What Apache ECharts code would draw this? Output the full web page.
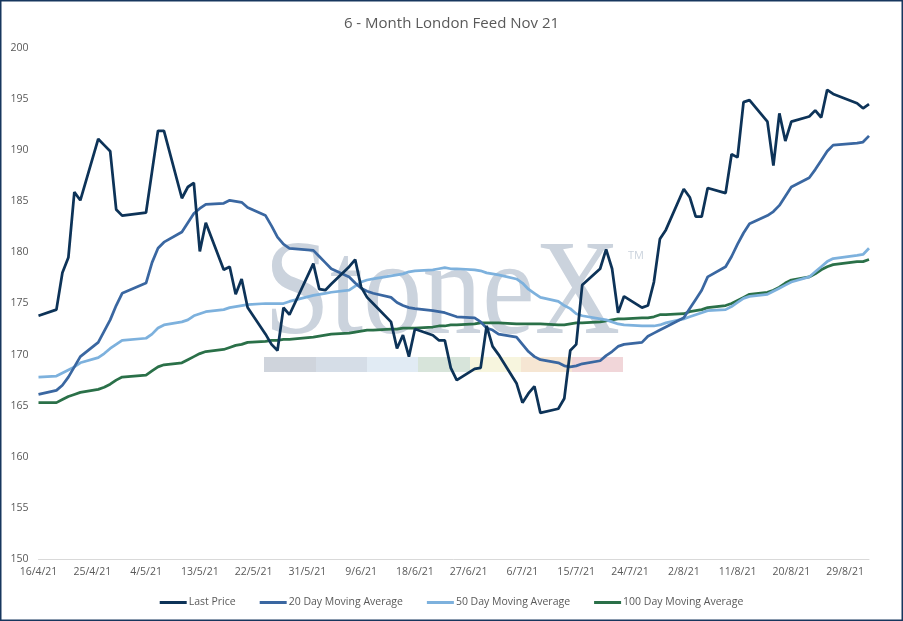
<!DOCTYPE html>
<html style="height: 100%">
<head>
    <meta charset="utf-8">
    <title>6 - Month London Feed Nov 21</title>
    <script src="https://cdn.jsdelivr.net/npm/echarts@6/dist/echarts.min.js"></script>
    <style>
        html, body { margin: 0; padding: 0; background: #fff; }
        #container { width: 903px; height: 621px; }
    </style>
</head>
<body>
<div id="container"></div>
<script>
    // trading days (UK bank holidays 3/5, 31/5, 30/8 are missing)
    var dates = [
        '2021-04-16','2021-04-19','2021-04-20','2021-04-21','2021-04-22','2021-04-23',
        '2021-04-26','2021-04-27','2021-04-28','2021-04-29','2021-04-30',
        '2021-05-04','2021-05-05','2021-05-06','2021-05-07',
        '2021-05-10','2021-05-11','2021-05-12','2021-05-13','2021-05-14',
        '2021-05-17','2021-05-18','2021-05-19','2021-05-20','2021-05-21',
        '2021-05-24','2021-05-25','2021-05-26','2021-05-27','2021-05-28',
        '2021-06-01','2021-06-02','2021-06-03','2021-06-04',
        '2021-06-07','2021-06-08','2021-06-09','2021-06-10','2021-06-11',
        '2021-06-14','2021-06-15','2021-06-16','2021-06-17','2021-06-18',
        '2021-06-21','2021-06-22','2021-06-23','2021-06-24','2021-06-25',
        '2021-06-28','2021-06-29','2021-06-30','2021-07-01','2021-07-02',
        '2021-07-05','2021-07-06','2021-07-07','2021-07-08','2021-07-09',
        '2021-07-12','2021-07-13','2021-07-14','2021-07-15','2021-07-16',
        '2021-07-19','2021-07-20','2021-07-21','2021-07-22','2021-07-23',
        '2021-07-26','2021-07-27','2021-07-28','2021-07-29','2021-07-30',
        '2021-08-02','2021-08-03','2021-08-04','2021-08-05','2021-08-06',
        '2021-08-09','2021-08-10','2021-08-11','2021-08-12','2021-08-13',
        '2021-08-16','2021-08-17','2021-08-18','2021-08-19','2021-08-20',
        '2021-08-23','2021-08-24','2021-08-25','2021-08-26','2021-08-27',
        '2021-08-31','2021-09-01','2021-09-02'
    ];

    var lastPrice = [
        173.8,174.4,178.0,179.5,185.9,185.1,
        191.1,190.5,189.9,184.2,183.6,
        183.9,187.9,191.9,191.9,
        185.3,186.4,186.8,180.1,182.9,
        178.3,178.6,175.9,177.4,174.6,
        172.0,171.0,170.4,174.6,173.9,
        178.9,176.4,176.3,176.9,
        178.6,179.3,176.6,175.6,175.0,
        173.2,170.6,171.9,169.8,172.5,
        171.9,171.4,171.4,168.7,167.5,
        168.6,168.7,172.8,170.8,170.0,
        167.2,165.3,166.2,166.9,164.3,
        164.7,165.7,170.4,171.0,176.8,
        178.4,180.3,178.4,174.1,175.7,
        174.6,174.8,177.1,181.3,182.2,
        186.2,185.4,183.5,183.5,186.3,
        185.8,189.6,189.3,194.7,194.9,
        192.8,188.5,193.6,190.9,192.8,
        193.3,193.9,193.2,195.9,195.5,
        194.6,194.1,194.5
    ];

    var ma20 = [
        166.1,166.5,167.0,167.8,168.8,169.8,
        171.2,172.3,173.4,174.8,176.0,
        177.0,179.0,180.4,181.0,
        182.0,182.9,183.8,184.3,184.7,
        184.8,185.1,185.0,184.9,184.4,
        183.6,182.6,181.5,180.8,180.4,
        180.2,179.6,179.0,178.4,
        177.6,177.0,176.5,176.2,176.0,
        175.6,175.1,174.8,174.6,174.5,
        174.3,174.2,174.1,173.9,173.7,
        173.6,173.2,172.6,172.4,172.0,
        171.7,171.0,170.3,169.8,169.5,
        169.2,168.9,168.8,168.9,169.1,
        169.4,169.9,170.3,170.8,171.0,
        171.2,171.8,172.1,172.4,172.7,
        173.6,174.5,175.4,176.3,177.6,
        178.6,179.6,180.8,181.9,182.8,
        183.6,184.0,184.6,185.5,186.4,
        187.3,188.1,189.0,189.9,190.5,
        190.7,190.8,191.4
    ];

    var ma50 = [
        167.8,167.9,168.2,168.5,168.8,169.2,
        169.7,170.1,170.6,171.0,171.4,
        171.6,172.0,172.6,172.9,
        173.2,173.4,173.8,174.0,174.2,
        174.4,174.6,174.7,174.8,174.9,
        175.0,175.0,175.0,175.0,175.2,
        175.8,175.9,176.0,176.1,
        176.3,176.7,177.1,177.3,177.4,
        177.7,177.8,177.9,178.1,178.2,
        178.3,178.4,178.5,178.4,178.4,
        178.3,178.2,178.0,177.9,177.8,
        177.4,177.0,176.4,176.0,175.6,
        175.2,174.8,174.5,174.0,173.8,
        173.5,173.4,173.2,173.0,172.9,
        172.8,172.8,172.8,172.9,173.1,
        173.5,173.7,173.9,174.1,174.3,
        174.4,174.7,175.1,175.5,175.7,
        175.9,176.2,176.5,176.8,177.1,
        177.6,178.1,178.6,179.1,179.4,
        179.7,179.8,180.4
    ];

    var ma100 = [
        165.3,165.3,165.6,165.9,166.1,166.3,
        166.6,166.8,167.1,167.5,167.8,
        168.0,168.4,168.8,169.0,
        169.2,169.5,169.8,170.1,170.3,
        170.5,170.7,170.9,171.0,171.2,
        171.3,171.4,171.4,171.5,171.5,
        171.7,171.8,171.9,172.0,
        172.1,172.2,172.3,172.4,172.4,
        172.5,172.5,172.6,172.6,172.6,
        172.7,172.8,172.8,172.9,172.9,
        173.0,173.1,173.1,173.1,173.1,
        173.0,173.0,173.0,173.0,173.0,
        172.9,172.9,173.0,173.1,173.1,
        173.2,173.3,173.4,173.5,173.5,
        173.6,173.6,173.7,173.9,173.9,
        174.0,174.2,174.3,174.4,174.6,
        174.8,175.0,175.3,175.6,175.9,
        176.1,176.3,176.6,177.0,177.3,
        177.6,177.9,178.3,178.6,178.8,
        179.1,179.1,179.3
    ];

    var seriesNames = ['Last Price', '20 Day Moving Average', '50 Day Moving Average', '100 Day Moving Average'];
    var seriesColors = ['#0d3358', '#3a67a1', '#7db1dd', '#2a7048'];
    var yTicks = [150, 155, 160, 165, 170, 175, 180, 185, 190, 195, 200];

    // x axis counts days from the first date, a label every 9 days
    var DAY = 86400000;
    function toUTC(s) {
        var p = s.split('-');
        return Date.UTC(+p[0], +p[1] - 1, +p[2]);
    }
    var t0 = toUTC(dates[0]);
    var dayNo = dates.map(function (d) { return Math.round((toUTC(d) - t0) / DAY); });
    function pairs(vals) {
        return vals.map(function (v, i) { return [dayNo[i], v]; });
    }
    function dayLabel(n) {
        var d = new Date(t0 + n * DAY);
        return d.getUTCDate() + '/' + (d.getUTCMonth() + 1) + '/' + String(d.getUTCFullYear()).slice(2);
    }

    var font = '"Open Sans", "Noto Sans", sans-serif';
    var textGrey = '#595959';

    var myChart = echarts.init(document.getElementById('container'));
    var option = {
        backgroundColor: '#fff',
        animation: false,
        title: {
            text: '6 - Month London Feed Nov 21',
            left: 'center',
            top: 11,
            textStyle: { fontFamily: font, fontSize: 15, fontWeight: 'normal', color: textGrey }
        },
        legend: {
            data: seriesNames,
            left: 'center',
            top: 592,
            itemWidth: 27,
            itemHeight: 3,
            itemGap: 24,
            icon: 'rect',
            textStyle: { fontFamily: font, fontSize: 10.5, color: textGrey, padding: [0, 0, 0, -3] }
        },
        grid: { left: 38.5, right: 34, top: 48, bottom: 62, containLabel: false },
        xAxis: {
            type: 'value',
            min: 0,
            max: dayNo[dayNo.length - 1],
            interval: 9,
            axisLine: { show: true, lineStyle: { color: '#d9d9d9', width: 1 } },
            axisTick: { show: false },
            splitLine: { show: false },
            axisLabel: {
                showMaxLabel: false,
                margin: 8,
                fontFamily: font, fontSize: 10.5, color: textGrey,
                formatter: function (v) { return dayLabel(v); }
            }
        },
        yAxis: {
            type: 'value',
            min: yTicks[0],
            max: yTicks[yTicks.length - 1],
            interval: yTicks[1] - yTicks[0],
            axisLine: { show: false },
            axisTick: { show: false },
            splitLine: { show: false },
            axisLabel: { margin: 10, fontFamily: font, fontSize: 10.5, color: textGrey }
        },
        graphic: [
            // StoneX watermark behind the lines
            {
                type: 'text', z: 0, silent: true,
                x: 264, y: 298, scaleX: 0.88,
                style: {
                    text: 'StoneX', fill: '#cbd3dd',
                    font: '135px "Liberation Serif", "DejaVu Serif", serif',
                    textVerticalAlign: 'middle'
                }
            },
            {
                type: 'text', z: 0, silent: true,
                x: 628, y: 256,
                style: { text: 'TM', fill: '#cbd3dd', font: '11px "Open Sans", sans-serif', textVerticalAlign: 'middle' }
            },
            { type: 'rect', z: 0, silent: true, shape: { x: 264, y: 357, width: 52, height: 15 }, style: { fill: '#cfd4dc' } },
            { type: 'rect', z: 0, silent: true, shape: { x: 316, y: 357, width: 51, height: 15 }, style: { fill: '#d5dde7' } },
            { type: 'rect', z: 0, silent: true, shape: { x: 367, y: 357, width: 51, height: 15 }, style: { fill: '#e1ebf4' } },
            { type: 'rect', z: 0, silent: true, shape: { x: 418, y: 357, width: 52, height: 15 }, style: { fill: '#d7e4da' } },
            { type: 'rect', z: 0, silent: true, shape: { x: 470, y: 357, width: 51, height: 15 }, style: { fill: '#f7f5de' } },
            { type: 'rect', z: 0, silent: true, shape: { x: 521, y: 357, width: 51, height: 15 }, style: { fill: '#f6e6d3' } },
            { type: 'rect', z: 0, silent: true, shape: { x: 572, y: 357, width: 51, height: 15 }, style: { fill: '#f1d6d9' } },
            // chart border
            {
                type: 'rect', z: 10, silent: true,
                shape: { x: 0.75, y: 0.75, width: 901.5, height: 619.5 },
                style: { fill: 'none', stroke: '#17375e', lineWidth: 1.5 }
            }
        ],
        series: [
            { name: seriesNames[0], data: pairs(lastPrice) },
            { name: seriesNames[1], data: pairs(ma20) },
            { name: seriesNames[2], data: pairs(ma50) },
            { name: seriesNames[3], data: pairs(ma100) }
        ].map(function (s, i) {
            s.type = 'line';
            s.symbol = 'none';
            s.z = 5 - i;
            s.color = seriesColors[i];
            s.lineStyle = { width: 2.75, color: seriesColors[i] };
            return s;
        })
    };
    myChart.setOption(option);
</script>
</body>
</html>
